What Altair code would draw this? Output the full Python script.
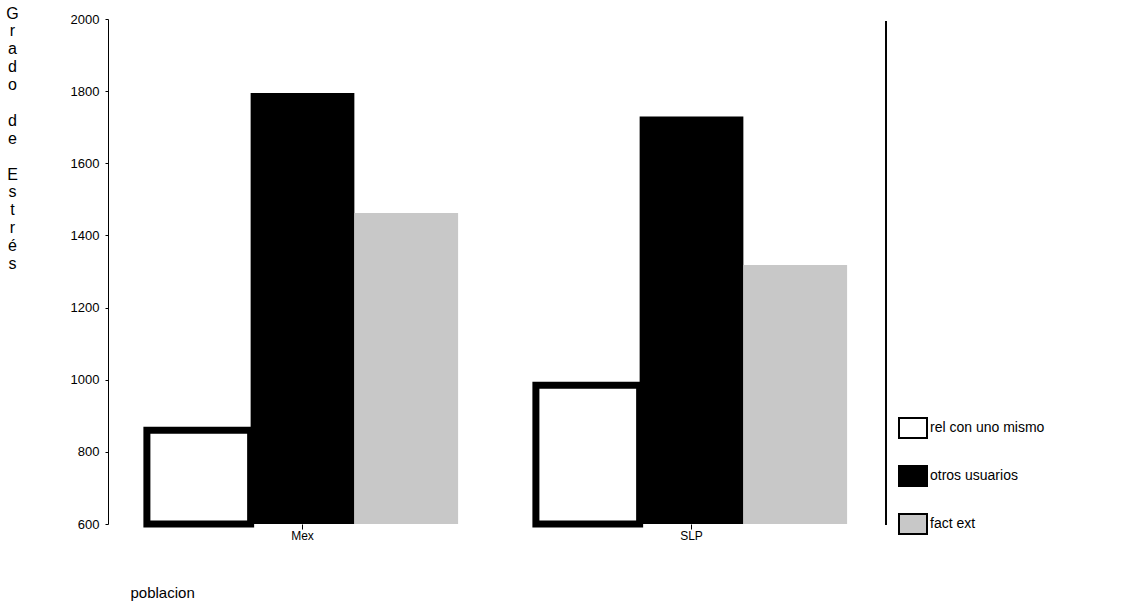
import altair as alt
import pandas as pd

poblacion = ["Mex", "SLP"]
categorias = ["rel con uno mismo", "otros usuarios", "fact ext"]
valores_mex = [860, 1795, 1462]
valores_slp = [985, 1730, 1318]
colores = ["#ffffff", "#000000", "#c8c8c8"]
y_ticks = [600, 800, 1000, 1200, 1400, 1600, 1800, 2000]
y_title = ["G", "r", "a", "d", "o", "\u200b", "d", "e", "\u200b", "E", "s", "t", "r", "é", "s"]
y_base = 600

rows = []
for p, vals in zip(poblacion, [valores_mex, valores_slp]):
    for c, v in zip(categorias, vals):
        rows.append({"poblacion": p, "cat": c, "valor": v})
df = pd.DataFrame(rows)

FONT = "Liberation Sans"
W, H = 778, 505

x_enc = alt.X("poblacion:N", sort=poblacion,
              scale=alt.Scale(paddingInner=0.2, paddingOuter=0.1),
              axis=alt.Axis(title="poblacion", labelAngle=0, domain=False,
                            tickSize=5, tickColor="black", labelPadding=1,
                            labelFont=FONT, labelFontSize=12, labelColor="black",
                            titleFont=FONT, titleFontSize=15, titleFontWeight="normal",
                            titleColor="black", titleX=22, titleY=73,
                            titleAlign="left", titleBaseline="alphabetic"))
xoff_enc = alt.XOffset("cat:N", sort=categorias,
                       scale=alt.Scale(domain=categorias, paddingInner=0, paddingOuter=0))
y_enc = alt.Y("valor:Q",
              scale=alt.Scale(domain=[600, 2000], nice=False, zero=False),
              axis=alt.Axis(values=y_ticks, format="d", grid=False,
                            domainColor="black", tickColor="black", tickSize=3,
                            labelPadding=6, labelFont=FONT, labelFontSize=13,
                            labelColor="black",
                            title=y_title, titleAngle=0, titleFont=FONT,
                            titleFontSize=16, titleFontWeight="normal",
                            titleColor="black", titleLineHeight=17.9,
                            titleX=-96, titleY=-1, titleAlign="center",
                            titleBaseline="alphabetic"))
fill_enc = alt.Fill("cat:N", sort=categorias,
                    scale=alt.Scale(domain=categorias, range=colores),
                    legend=alt.Legend(title=None, orient="none", legendX=794,
                                      legendY=398, padding=0,
                                      symbolType="M-1.4,-1H1.4V1H-1.4Z",
                                      symbolSize=400, symbolStrokeColor="black",
                                      symbolStrokeWidth=2, symbolOpacity=1,
                                      labelFont=FONT, labelFontSize=14,
                                      labelColor="black", labelOffset=6,
                                      rowPadding=20))

base = alt.Chart(df).encode(x=x_enc, xOffset=xoff_enc, y=y_enc,
                            y2=alt.datum(y_base), fill=fill_enc)

rel_bars = base.transform_filter(alt.datum.cat == "rel con uno mismo").mark_bar(
    stroke="black", strokeWidth=7
)
other_bars = base.transform_filter(alt.datum.cat != "rel con uno mismo").mark_bar()

border = alt.Chart(df).mark_rule(color="black", strokeWidth=1).encode(
    x=alt.value(W), y=alt.value(2), y2=alt.value(H + 1)
)

chart = alt.layer(other_bars, rel_bars, border).properties(
    width=W, height=H,
    autosize=alt.AutoSizeParams(type="none"),
    padding={"left": 108, "top": 19, "right": 1121 - 108 - W, "bottom": 615 - 19 - H},
).configure(background="white").configure_view(stroke=None)

chart.save("out.html", embed_options={"renderer": "svg", "actions": False})
